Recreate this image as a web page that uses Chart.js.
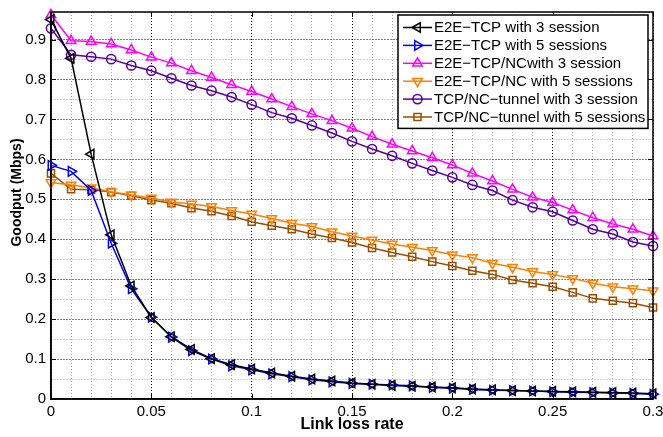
<!DOCTYPE html>
<html><head><meta charset="utf-8">
<script src="https://cdn.jsdelivr.net/npm/chart.js@4/dist/chart.umd.min.js"></script>
<style>html,body{margin:0;padding:0;background:#fff}#wrap{width:663px;height:437px;position:relative}</style>
</head><body><div id="wrap"><canvas id="c"></canvas></div>
<script>
const lossRate = [0,0.01,0.02,0.03,0.04,0.05,0.06,0.07,0.08,0.09,0.10,0.11,0.12,0.13,0.14,0.15,0.16,0.17,0.18,0.19,0.20,0.21,0.22,0.23,0.24,0.25,0.26,0.27,0.28,0.29,0.30];
const e2eTcp3 = [0.950,0.853,0.613,0.411,0.283,0.204,0.156,0.124,0.101,0.086,0.075,0.065,0.057,0.050,0.045,0.040,0.037,0.034,0.032,0.030,0.028,0.025,0.023,0.021,0.020,0.019,0.018,0.017,0.016,0.015,0.013];
const e2eTcp5 = [0.585,0.570,0.522,0.390,0.276,0.205,0.155,0.121,0.100,0.083,0.073,0.063,0.056,0.048,0.043,0.039,0.037,0.035,0.033,0.029,0.027,0.024,0.022,0.021,0.020,0.018,0.017,0.016,0.015,0.014,0.012];
const e2eNc3 = [0.962,0.897,0.895,0.889,0.874,0.856,0.841,0.822,0.805,0.787,0.770,0.751,0.732,0.714,0.697,0.678,0.657,0.638,0.621,0.604,0.586,0.565,0.546,0.525,0.505,0.492,0.473,0.454,0.438,0.425,0.408];
const e2eNc5 = [0.542,0.536,0.529,0.519,0.511,0.503,0.493,0.488,0.482,0.472,0.463,0.452,0.440,0.432,0.419,0.408,0.398,0.388,0.380,0.372,0.361,0.354,0.340,0.330,0.319,0.312,0.302,0.290,0.281,0.276,0.271];
const tunnel3 = [0.928,0.862,0.857,0.851,0.835,0.822,0.803,0.785,0.772,0.756,0.737,0.717,0.703,0.685,0.666,0.645,0.626,0.609,0.590,0.572,0.555,0.536,0.522,0.498,0.480,0.469,0.447,0.425,0.413,0.393,0.383];
const tunnel5 = [0.565,0.525,0.524,0.518,0.509,0.498,0.490,0.478,0.470,0.458,0.444,0.434,0.425,0.413,0.403,0.392,0.378,0.367,0.356,0.344,0.333,0.321,0.312,0.298,0.290,0.281,0.267,0.252,0.246,0.240,0.229];
const seriesNames = ['E2E\u2212TCP with 3 session','E2E\u2212TCP with 5 sessions','E2E\u2212TCP/NCwith 3 session','E2E\u2212TCP/NC with 5 sessions','TCP/NC\u2212tunnel with 3 session','TCP/NC\u2212tunnel with 5 sessions'];
const xTickLabels = ['0','0.05','0.1','0.15','0.2','0.25','0.3'];
const yTickLabels = ['0','0.1','0.2','0.3','0.4','0.5','0.6','0.7','0.8','0.9'];
const xTitle = 'Link loss rate';
const yTitle = 'Goodput (Mbps)';

const FONT = '"Liberation Sans", Arial, Helvetica, sans-serif';
const styles = [
  {color:'#000000', style:'triangle', rot:-90, r:5.5},
  {color:'#0000ff', style:'triangle', rot:90, r:5.5},
  {color:'#ff00ff', style:'triangle', rot:0, r:5.5},
  {color:'#ff8000', style:'triangle', rot:180, r:5.5},
  {color:'#5500a0', style:'circle', rot:0, r:4.6},
  {color:'#994d00', style:'rect', rot:0, r:5}
];
const allSeries = [e2eTcp3, e2eTcp5, e2eNc3, e2eNc5, tunnel3, tunnel5];

const datasets = allSeries.map((vals, i) => ({
  label: seriesNames[i],
  data: vals.map((v, k) => ({x: lossRate[k], y: v})),
  borderColor: styles[i].color,
  backgroundColor: 'rgba(0,0,0,0)',
  borderWidth: 1.5,
  pointStyle: styles[i].style,
  rotation: styles[i].rot,
  pointRadius: styles[i].r,
  pointBorderWidth: 1.5,
  pointBackgroundColor: 'rgba(0,0,0,0)',
  pointBorderColor: styles[i].color,
  tension: 0,
  fill: false,
  clip: 8
}));

function isMultiple(v, step) {
  const q = v / step;
  return Math.abs(q - Math.round(q)) < 1e-6;
}
function fmt(v) { return String(parseFloat(v.toFixed(2))); }

function drawMarker(ctx, style, rot, r, x, y) {
  ctx.beginPath();
  if (style === 'triangle') {
    let rad = rot * Math.PI / 180;
    ctx.moveTo(x + Math.sin(rad) * r, y - Math.cos(rad) * r);
    rad += 2 * Math.PI / 3;
    ctx.lineTo(x + Math.sin(rad) * r, y - Math.cos(rad) * r);
    rad += 2 * Math.PI / 3;
    ctx.lineTo(x + Math.sin(rad) * r, y - Math.cos(rad) * r);
    ctx.closePath();
  } else if (style === 'circle') {
    ctx.arc(x, y, r, 0, Math.PI * 2);
  } else {
    const s = Math.SQRT1_2 * r;
    ctx.rect(x - s, y - s, 2 * s, 2 * s);
  }
  ctx.stroke();
}

const framePlugin = {
  id: 'frame',
  afterDraw(chart) {
    const ctx = chart.ctx, a = chart.chartArea;
    const xs = chart.scales.x, ys = chart.scales.y;
    ctx.save();
    ctx.strokeStyle = '#000';
    ctx.lineWidth = 1.5;
    ctx.setLineDash([]);
    ctx.strokeRect(a.left, a.top, a.right - a.left, a.bottom - a.top);
    // inward tick marks
    ctx.lineWidth = 1;
    const tl = 5;
    xTickLabels.forEach(t => {
      const px = Math.round(xs.getPixelForValue(parseFloat(t))) + 0.5;
      ctx.beginPath();
      ctx.moveTo(px, a.bottom); ctx.lineTo(px, a.bottom - tl);
      ctx.moveTo(px, a.top); ctx.lineTo(px, a.top + tl);
      ctx.stroke();
    });
    yTickLabels.forEach(t => {
      const py = Math.round(ys.getPixelForValue(parseFloat(t))) + 0.5;
      ctx.beginPath();
      ctx.moveTo(a.left, py); ctx.lineTo(a.left + tl, py);
      ctx.moveTo(a.right, py); ctx.lineTo(a.right - tl, py);
      ctx.stroke();
    });
    // axis titles
    ctx.fillStyle = '#000';
    ctx.textAlign = 'center';
    ctx.textBaseline = 'middle';
    ctx.font = 'bold 16px ' + FONT;
    ctx.fillText(xTitle, (a.left + a.right) / 2, 425);
    ctx.save();
    ctx.translate(17, (a.top + a.bottom) / 2 - 13);
    ctx.rotate(-Math.PI / 2);
    ctx.font = 'bold 14px ' + FONT;
    ctx.fillText(yTitle, 0, 0);
    ctx.restore();
    // legend
    const boxW = 250, rowH = 17.9;
    const boxR = a.right - 5, boxL = boxR - boxW, boxT = a.top + 3;
    const boxH = rowH * seriesNames.length + 6;
    ctx.fillStyle = '#fff';
    ctx.fillRect(boxL, boxT, boxW, boxH);
    ctx.lineWidth = 1.5;
    ctx.strokeStyle = '#000';
    ctx.strokeRect(boxL, boxT, boxW, boxH);
    ctx.font = '15px ' + FONT;
    ctx.textBaseline = 'middle';
    ctx.textAlign = 'left';
    seriesNames.forEach((name, i) => {
      const cy = boxT + 12.5 + i * rowH;
      const st = styles[i];
      ctx.strokeStyle = st.color;
      ctx.lineWidth = 1.5;
      ctx.beginPath();
      ctx.moveTo(boxL + 5, cy); ctx.lineTo(boxL + 34, cy);
      ctx.stroke();
      drawMarker(ctx, st.style, st.rot, st.r, boxL + 19.5, cy);
      ctx.fillStyle = '#000';
      ctx.fillText(name, boxL + 36, cy + 0.5);
    });
    ctx.restore();
  }
};

new Chart(document.getElementById('c'), {
  type: 'line',
  data: { datasets },
  options: {
    responsive: true,
    maintainAspectRatio: false,
    animation: false,
    events: [],
    layout: { padding: { left: 0, right: 10, top: 12, bottom: 0 } },
    plugins: { legend: { display: false }, tooltip: { enabled: false } },
    scales: {
      x: {
        type: 'linear', min: 0, max: 0.3,
        afterFit(s) { s.height = 38; s.paddingLeft = 0; s.paddingRight = 0; },
        ticks: {
          stepSize: 0.01, autoSkip: false, maxRotation: 0, padding: 4,
          color: '#000', font: { family: FONT, size: 15 },
          callback: (v) => { const l = fmt(v); return xTickLabels.includes(l) && isMultiple(v, 0.05) ? l : ''; }
        },
        grid: {
          drawTicks: false,
          lineWidth: 1,
          color: (c) => (c.tick && isMultiple(c.tick.value, 0.05)) ? '#000' : '#a8a8a8'
        },
        border: { display: true, color: '#000', width: 1.5, dash: [1, 2] }
      },
      y: {
        type: 'linear', min: 0, max: 0.969,
        afterFit(s) { s.width = 51; s.paddingTop = 0; s.paddingBottom = 0; },
        ticks: {
          stepSize: 0.05, autoSkip: false, padding: 5,
          color: '#000', font: { family: FONT, size: 15 },
          callback: (v) => { const l = fmt(v); return yTickLabels.includes(l) && isMultiple(v, 0.1) ? l : ''; }
        },
        grid: {
          drawTicks: false,
          lineWidth: 1,
          color: (c) => (c.tick && isMultiple(c.tick.value, 0.1)) ? '#000' : '#a8a8a8'
        },
        border: { display: true, color: '#000', width: 1.5, dash: [1, 2] }
      }
    }
  },
  plugins: [framePlugin]
});
</script>
</body></html>
